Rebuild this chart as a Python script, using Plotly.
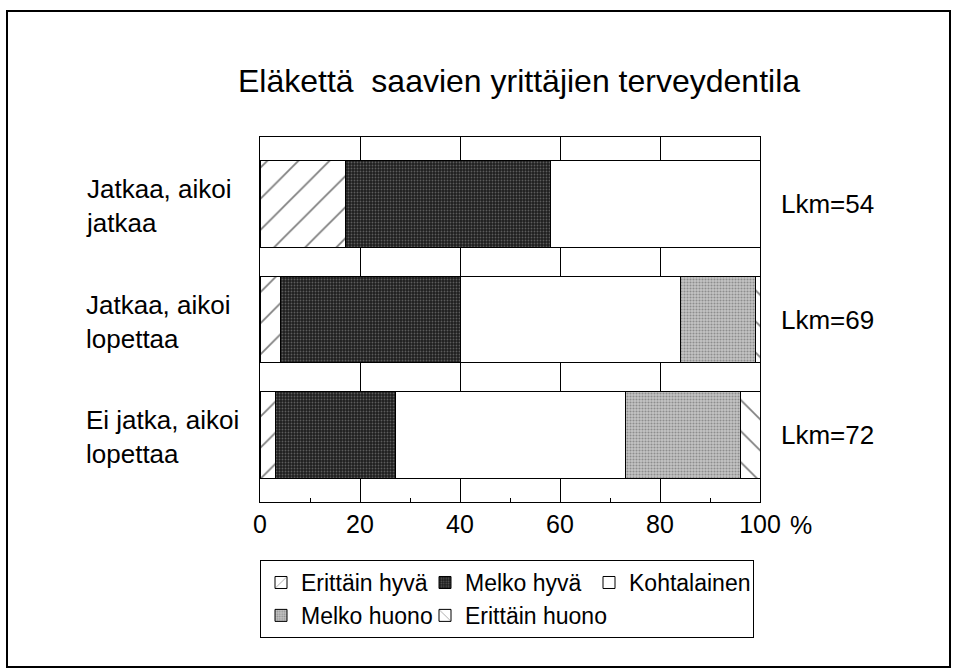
import plotly.graph_objects as go

# data (percent of each group)
groups = ["Jatkaa, aikoi jatkaa", "Jatkaa, aikoi lopettaa", "Ei jatka, aikoi lopettaa"]
group_labels = ["Jatkaa, aikoi<br>jatkaa", "Jatkaa, aikoi<br>lopettaa", "Ei jatka, aikoi<br>lopettaa"]
counts = [54, 69, 72]

erittain_hyva = [17, 4, 3]
melko_hyva = [41, 36, 24]
kohtalainen = [42, 44, 46]
melko_huono = [0, 15, 23]
erittain_huono = [0, 1, 4]

tick_vals = [0, 20, 40, 60, 80, 100]
tick_text = ["0", "20", "40", "60", "80", "100"]
minor_vals = [10, 30, 50, 70, 90]

FONT = "Liberation Sans, Arial, sans-serif"

series = [
    ("Erittäin hyvä", erittain_hyva, dict(shape="/", fgcolor="black", bgcolor="white", size=22, solidity=0.08)),
    ("Melko hyvä", melko_hyva, dict(shape=".", fgcolor="#9a9a9a", bgcolor="#1e1e1e", size=3, solidity=0.3)),
    ("Kohtalainen", kohtalainen, dict(shape="", bgcolor="white")),
    ("Melko huono", melko_huono, dict(shape=".", fgcolor="#555", bgcolor="#c4c4c4", size=3, solidity=0.4)),
    ("Erittäin huono", erittain_huono, dict(shape="\\", fgcolor="black", bgcolor="white", size=22, solidity=0.08)),
]

fig = go.Figure()
for name, vals, pat in series:
    fig.add_trace(go.Bar(
        y=groups, x=vals, name=name, orientation="h",
        marker=dict(color=pat.get("bgcolor", "white"), pattern=pat,
                    line=dict(color="black", width=1)),
    ))

# group labels on the left, counts on the right
for g, lab, n in zip(groups, group_labels, counts):
    fig.add_annotation(x=-0.352, xref="paper", y=g, yref="y", text=lab,
                       xanchor="left", align="left", showarrow=False, yshift=-2,
                       font=dict(size=26, family=FONT, color="black"))
    fig.add_annotation(x=1.038, xref="paper", y=g, yref="y", text=f"Lkm={n}",
                       xanchor="left", showarrow=False,
                       font=dict(size=26, family=FONT, color="black"))

fig.add_annotation(x=1.055, xref="paper", y=-0.063, yref="paper", text="%",
                   xanchor="left", yanchor="middle", showarrow=False,
                   font=dict(size=25, family=FONT, color="black"))

# outer frame
fig.add_shape(type="rect", xref="paper", yref="paper",
              x0=-0.506, x1=1.38, y0=-0.452, y1=1.345,
              line=dict(color="black", width=2))

fig.update_layout(
    width=953, height=670,
    barmode="stack", bargap=0.255,
    plot_bgcolor="white", paper_bgcolor="white",
    margin=dict(l=260, r=193, t=137, b=168),
    font=dict(family=FONT, color="black"),
    title=dict(text="Eläkettä  saavien yrittäjien terveydentila",
               x=0.518, xref="paper", xanchor="center",
               y=0.88, yanchor="middle",
               font=dict(size=32, family=FONT, color="black")),
    showlegend=True,
    legend=dict(orientation="h", x=0, xanchor="left", y=-0.159, yanchor="top",
                bgcolor="white", bordercolor="black", borderwidth=1,
                font=dict(size=23, family=FONT, color="black"),
                traceorder="normal", entrywidth=119),
)
fig.update_xaxes(range=[0, 100], tickvals=tick_vals, ticktext=tick_text,
                 showgrid=True, gridcolor="black", gridwidth=1,
                 showline=True, linecolor="black", linewidth=1, mirror=True,
                 ticks="", tickfont=dict(size=25, family=FONT, color="black"),
                 zeroline=False,
                 minor=dict(tickvals=minor_vals, ticks="inside",
                            ticklen=4, tickcolor="black", showgrid=False))
fig.update_yaxes(range=[2.58, -0.58], showticklabels=False, showgrid=False,
                 showline=True, linecolor="black", linewidth=1, mirror=True,
                 ticks="")

# drop the page's default 8px body margin so the figure sits at the window edge
fig.write_html("out.html", config={"displayModeBar": False},
               post_script="document.body.style.margin='0';")
